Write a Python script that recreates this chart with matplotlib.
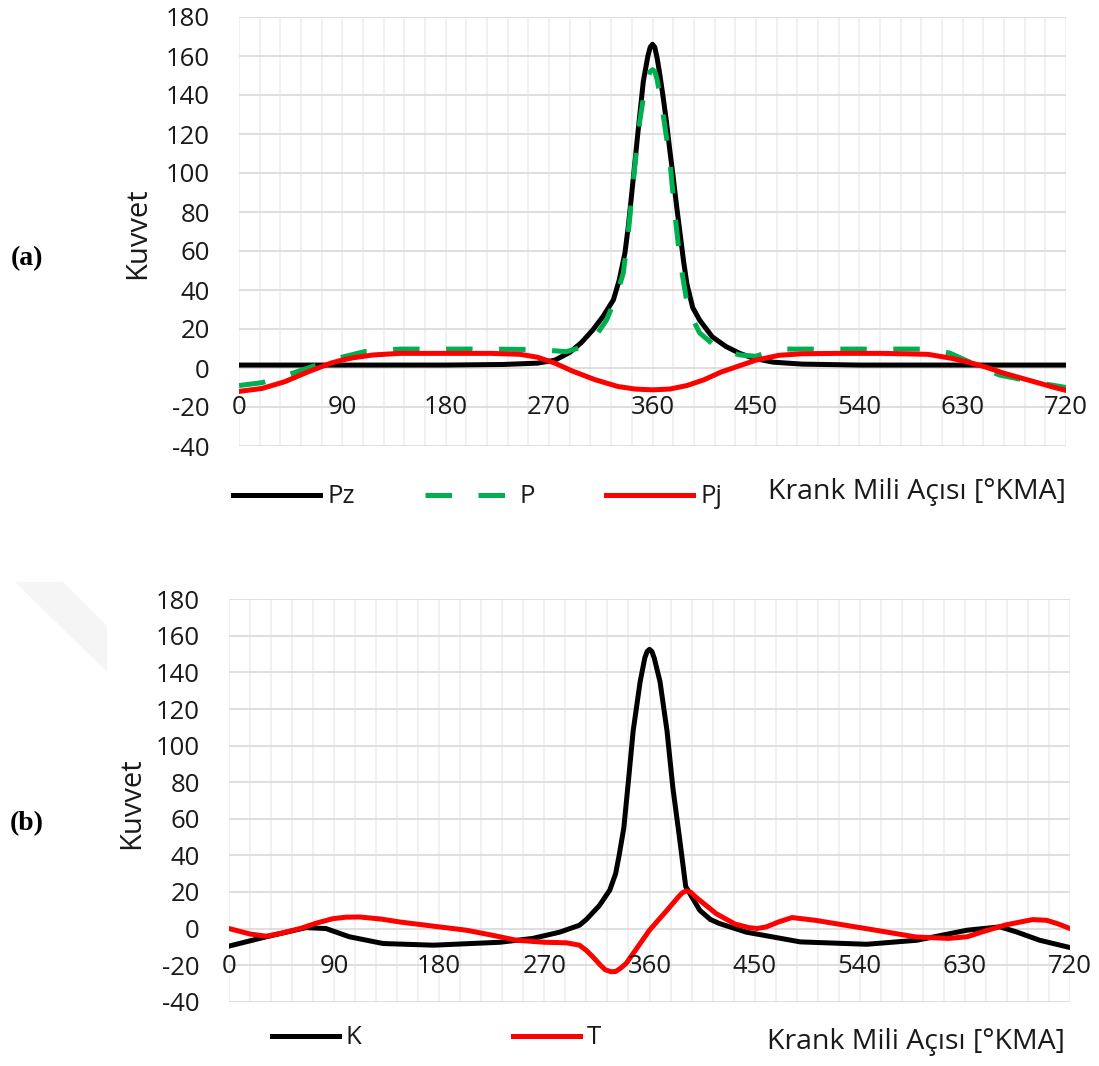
import numpy as np
import matplotlib
matplotlib.use('Agg')
import matplotlib.pyplot as plt
from matplotlib.patches import Polygon

plt.rcParams['font.family'] = ['Open Sans', 'DejaVu Sans']
plt.rcParams['axes.unicode_minus'] = False

W, H = 1099, 1066

####################################################
# (a) Pz, P, Pj
####################################################
x_pz = [0, 60, 120, 180, 230, 260, 275, 288, 298, 308, 317, 326, 331, 336, 339, 342, 347,
        352, 356, 358, 360, 362, 364, 366, 369, 372, 375, 378, 381, 384, 387, 390, 395, 401, 412,
        424, 436, 448, 465, 490, 540, 600, 660, 720]
pz = [1.5, 1.5, 1.5, 1.5, 1.8, 2.5, 4, 8, 13, 19.5, 26.5, 35, 45, 59, 73, 90, 119,
      147, 160, 164.5, 166, 164.5, 159, 152, 140, 127, 112, 98, 83, 69, 55, 43, 31, 24.6, 16,
      11, 7.5, 5, 3, 2, 1.5, 1.5, 1.5, 1.5]

x_p = [0, 20, 40, 60, 75, 90, 110, 140, 180, 220, 250, 270, 285, 300, 310, 320, 328,
       334.5, 337.5, 340, 344.5, 349, 353, 356, 358, 360, 362, 364, 369, 375, 379.5, 384, 391,
       401, 415, 425, 436, 450, 465, 477, 520, 560, 604, 619, 642, 662, 691, 705, 720]
p = [-9, -7.5, -4, 0, 3, 5.6, 8.5, 9.7, 9.7, 9.7, 9.5, 9, 8.4, 11, 16, 24.6, 36,
     48.5, 62, 76, 103, 127, 142, 149, 152, 153, 152, 148, 131, 107, 79, 55, 30,
     18, 11, 8.5, 6.7, 6, 9, 9.7, 9.7, 9.7, 9.7, 7.6, 1.5, -3.6, -7, -8.5, -10]

x_pj = [0, 20, 40, 60, 80, 90, 100, 117, 140, 180, 220, 245, 260, 275, 290, 310, 330,
        345, 360, 375, 390, 405, 420, 435, 450, 470, 490, 520, 560, 600, 620, 635,
        650, 665, 680, 695, 710, 720]
pj = [-12, -10.5, -7, -2, 2.5, 4.1, 5.3, 6.7, 7.5, 7.5, 7.5, 7, 5.5, 2.5, -1.5, -6, -9.5,
      -10.8, -11.2, -10.8, -9, -6, -2, 1, 4, 6.5, 7.3, 7.5, 7.5, 7, 5, 3,
      0.5, -2.5, -5, -7.5, -10, -11.5]

####################################################
# (b) K, T
####################################################
x_k = [0, 32, 66, 83, 103, 132, 175, 232, 260, 283, 300, 306, 317, 326, 331, 334, 338,
       342, 346, 352, 356, 358, 360, 362, 364, 369, 375, 380, 386, 391, 403, 412, 420, 443,
       489, 546, 589, 632, 660, 674, 694, 720]
k = [-9.6, -4.5, 0.5, 0, -4.5, -8.2, -9.1, -7.5, -5.4, -2, 1.8, 5, 12.5, 21, 30, 40, 55,
     81, 108, 135, 148, 151.5, 152.6, 151.5, 148, 135, 108, 77, 48, 23, 10, 5, 2.7, -2,
     -7.3, -8.6, -6.4, -0.9, 0.9, -1.8, -6.4, -10.4]

x_t = [0, 18, 32, 45, 61, 75, 89, 100, 112, 130, 146, 175, 203, 225, 246, 270, 289, 300,
       306, 311.5, 318, 322, 327, 331, 335, 340, 350, 360, 375, 385, 388, 391, 395, 400, 417,
       433, 445, 452, 460, 470, 482, 502, 545, 588, 616, 632, 645, 665, 688, 700, 710, 720]
t = [0, -3, -4.2, -2.5, 0, 3, 5.4, 6.2, 6.3, 5.2, 3.6, 1.3, -0.9, -3.6, -6.4, -7.5, -7.8, -9.1,
     -12, -15.5, -20, -22.5, -23.6, -23.5, -21.8, -19.1, -10, -0.9, 10, 17.5, 19.5, 20.5, 20, 17, 8.2,
     2.5, 0.5, 0, 0.9, 3.5, 6, 4.5, 0, -4.6, -5.4, -4.5, -1.8, 2, 4.9, 4.5, 2.5, 0]

x_ticks = [0, 90, 180, 270, 360, 450, 540, 630, 720]
y_ticks = [-40, -20, 0, 20, 40, 60, 80, 100, 120, 140, 160, 180]
x_title = 'Krank Mili Açısı [°KMA]'
y_title = 'Kuvvet'

TXT = '#1a1a1a'
FS = 18.5


def fx(px):
    return px / W


def fy(py):
    return 1 - py / H


def setup(ax, lab_y):
    ax.set_xlim(0, 720)
    ax.set_ylim(-40, 180)
    ax.set_yticks(y_ticks)
    ax.set_xticks(x_ticks)
    ax.set_xticks(np.arange(0, 721, 18), minor=True)
    ax.grid(axis='x', which='both', color='#EDEDED', lw=1.1, zorder=0)
    ax.grid(axis='y', which='major', color='#D9D9D9', lw=1.2, zorder=0)
    ax.set_axisbelow(True)
    for s in ax.spines.values():
        s.set_visible(False)
    ax.tick_params(axis='both', which='both', length=0)
    ax.tick_params(axis='y', labelsize=FS, pad=21, labelcolor=TXT)
    ax.tick_params(axis='x', labelbottom=False)
    for xt in x_ticks:
        ax.text(xt, lab_y, str(xt), ha='center', va='center', fontsize=FS, color=TXT)


fig = plt.figure(figsize=(W / 100, H / 100), dpi=100)

# faint watermark corner
fig.patches.append(Polygon([(fx(15), fy(582)), (fx(63), fy(582)), (fx(107), fy(626)),
                            (fx(107), fy(672))], closed=True, transform=fig.transFigure,
                           facecolor='#F5F5F5', edgecolor='none', zorder=0))

# (a)
ax1 = fig.add_axes([fx(239), fy(446), (1066 - 239) / W, (446 - 17) / H])
setup(ax1, -20)
l1, = ax1.plot(x_pz, pz, color='black', lw=3.6, solid_joinstyle='round', label='Pz')
l2, = ax1.plot(x_p, p, color='#00B050', lw=3.6, dashes=(5.3, 5.3), label='P')
l3, = ax1.plot(x_pj, pj, color='#FF0000', lw=3.6, solid_joinstyle='round', label='Pj')
fig.legend(handles=[l1, l2, l3], loc='center left', bbox_to_anchor=(fx(233), fy(497)),
           ncol=3, frameon=False, handlelength=3.4, handletextpad=0.27, columnspacing=2.75,
           fontsize=FS, borderpad=0, borderaxespad=0, labelcolor=TXT)
fig.text(fx(768), fy(492), x_title, ha='left', va='center', fontsize=20.5, color=TXT)
fig.text(fx(138), fy(233), y_title, rotation=90, ha='center', va='center', fontsize=21, color=TXT)
fig.text(fx(27), fy(259), '(a)', ha='center', va='center', fontsize=20,
         fontfamily='Liberation Serif', fontweight='bold', color='black')

# (b)
ax2 = fig.add_axes([fx(229), fy(1001.7), (1070 - 229) / W, (1001.7 - 599.3) / H])
setup(ax2, -21)
m1, = ax2.plot(x_k, k, color='black', lw=3.6, solid_joinstyle='round', label='K')
m2, = ax2.plot(x_t, t, color='#FF0000', lw=3.6, solid_joinstyle='round', label='T')
fig.legend(handles=[m1, m2], loc='center left', bbox_to_anchor=(fx(272), fy(1038)),
           ncol=2, frameon=False, handlelength=2.6, handletextpad=0.27, columnspacing=5.9,
           fontsize=FS, borderpad=0, borderaxespad=0, labelcolor=TXT)
fig.text(fx(767), fy(1042), x_title, ha='left', va='center', fontsize=20.5, color=TXT)
fig.text(fx(132), fy(803), y_title, rotation=90, ha='center', va='center', fontsize=21, color=TXT)
fig.text(fx(27), fy(824), '(b)', ha='center', va='center', fontsize=20,
         fontfamily='Liberation Serif', fontweight='bold', color='black')

fig.savefig('out.png', dpi=100)
